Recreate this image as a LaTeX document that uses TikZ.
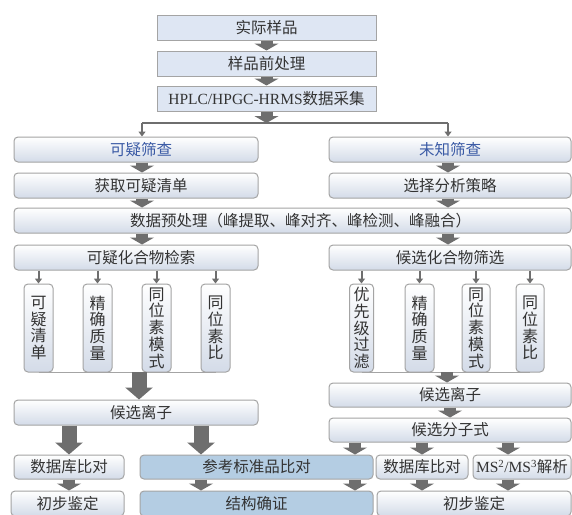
\documentclass[tikz,border=0pt]{standalone}
\usepackage{fontspec}
\setmainfont{Liberation Serif}
\newfontfamily\cjk{Noto Sans CJK SC}
\usetikzlibrary{arrows.meta,calc}
\definecolor{bd}{HTML}{A4A4A4}
\definecolor{lav}{HTML}{DEE6F3}
\definecolor{grad}{HTML}{D3DBE8}
\definecolor{sky}{HTML}{B4CDE3}
\definecolor{ag}{HTML}{6E6E6E}
\definecolor{tx}{HTML}{333333}
\definecolor{bl}{HTML}{3A5AA5}
\tikzset{
  base/.style={inner sep=0pt, text=tx, font=\cjk\fontsize{15.5}{18}\selectfont, line width=1pt, draw=bd},
  topbox/.style={base, rectangle, fill=lav, minimum height=25pt},
  rbox/.style={base, rounded corners=4pt, top color=white, bottom color=grad, minimum height=25pt},
  bbox/.style={base, rounded corners=4pt, fill=sky, minimum height=25pt},
  vbox/.style={base, rounded corners=4pt, top color=white, bottom color=grad, minimum height=88pt, minimum width=29pt, align=center, font=\cjk\fontsize{16}{16.8}\selectfont},
  arrS/.style={draw=ag, line width=12pt, -{Triangle[width=24pt,length=7pt]}},
  arrB/.style={draw=ag, line width=15pt, -{Triangle[width=27pt,length=12pt]}},
  arrT/.style={draw=ag, line width=2pt, -{Triangle[width=7pt,length=5pt]}},
  ln/.style={draw=ag, line width=2pt},
  baseln/.style={draw=bd, line width=1pt}
}
\begin{document}
\begin{tikzpicture}[x=1pt,y=-1pt]
\clip (0,0) rectangle (572,514);
\fill[white] (0,0) rectangle (572,514);
% top column
\node[topbox, minimum width=219pt] (sj) at (266.5,27.5) {实际样品};
\node[topbox, minimum width=219pt] (qcl) at (266.5,63.5) {样品前处理};
\node[topbox, minimum width=219pt] (hplc) at (266.5,98.5) {{\rmfamily HPLC/HPGC-HRMS}数据采集};
% branches
\node[rbox, minimum width=244pt, text=bl] (kysc) at (136,149.5) {\hspace*{10pt}可疑筛查};
\node[rbox, minimum width=242pt, text=bl] (wzsc) at (450,149.5) {未知筛查};
\node[rbox, minimum width=244pt] (hq) at (136,185.5) {\hspace*{10pt}获取可疑清单};
\node[rbox, minimum width=242pt] (xz) at (450,185.5) {选择分析策略};
\node[rbox, minimum width=557pt] (ycl) at (292.5,220.5) {\hspace*{16pt}数据预处理（峰提取、峰对齐、峰检测、峰融合）};
\node[rbox, minimum width=244pt] (js) at (136,257.5) {\hspace*{10pt}可疑化合物检索};
\node[rbox, minimum width=242pt] (sx) at (450,257.5) {候选化合物筛选};
% vertical boxes
\node[vbox] (v1) at (38.5,328) {可\\疑\\清\\单};
\node[vbox] (v2) at (97.5,328) {精\\确\\质\\量};
\node[vbox] (v3) at (156.5,328) {同\\位\\素\\模\\式};
\node[vbox] (v4) at (215.5,328) {同\\位\\素\\比};
\node[vbox, minimum width=24pt] (v5) at (361.5,328) {优\\先\\级\\过\\滤};
\node[vbox] (v6) at (419.5,328) {精\\确\\质\\量};
\node[vbox, minimum width=28pt] (v7) at (476,328) {同\\位\\素\\模\\式};
\node[vbox, minimum width=28pt] (v8) at (530,328) {同\\位\\素\\比};
% lower boxes
\node[rbox, minimum width=244pt] (hxlzL) at (136,412.5) {\hspace*{10pt}候选离子};
\node[rbox, minimum width=242pt, minimum height=24pt] (hxlzR) at (450,395) {候选离子};
\node[rbox, minimum width=242pt, minimum height=24pt] (hxfzs) at (450,430) {候选分子式};
\node[rbox, minimum width=110pt, minimum height=24pt] (sjkL) at (69,467) {数据库比对};
\node[bbox, minimum width=233pt, minimum height=24pt] (ckbz) at (256.5,467) {参考标准品比对};
\node[rbox, minimum width=92pt, minimum height=24pt] (sjkR) at (422,467) {数据库比对};
\node[rbox, minimum width=98pt, minimum height=24pt] (ms) at (522,467) {{\rmfamily MS\textsuperscript{2}/MS\textsuperscript{3}}解析};
\node[rbox, minimum width=113pt] (cbL) at (67.5,503.5) {初步鉴定};
\node[bbox, minimum width=233pt] (jgqz) at (256.5,503.5) {结构确证};
\node[rbox, minimum width=194pt] (cbR) at (474,503.5) {初步鉴定};
% helper coordinates
\coordinate (XL) at (142,0);
\coordinate (XR) at (448,0);
\coordinate (split) at (266.5,123);
\coordinate (bL) at (139,372);
\coordinate (bR) at (447,372);
\coordinate (c1) at (201,0);
\coordinate (c2) at (355,0);
\coordinate (c3) at (508,0);
% top arrows
\draw[arrS] (sj) -- (qcl);
\draw[arrS] (qcl) -- (hplc);
\draw[arrS] (hplc.south) -- (split);
\draw[ln] (split -| XL) -- (split -| XR);
\draw[arrT] (split -| XL) -- (kysc.north -| XL);
\draw[arrT] (split -| XR) -- (wzsc.north -| XR);
% columns
\draw[arrS] (kysc.south -| XL) -- (hq.north -| XL);
\draw[arrS] (hq.south -| XL) -- (ycl.north -| XL);
\draw[arrS] (ycl.south -| XL) -- (js.north -| XL);
\draw[arrS] (wzsc.south -| XR) -- (xz.north -| XR);
\draw[arrS] (xz.south -| XR) -- (ycl.north -| XR);
\draw[arrS] (ycl.south -| XR) -- (sx.north -| XR);
% small arrows to vertical boxes
\foreach \v in {v1,v2,v3,v4} \draw[arrT] (js.south -| \v) -- (\v.north);
\foreach \v in {v5,v6,v7,v8} \draw[arrT] (sx.south -| \v) -- (\v.north);
\draw[baseln] (v1.south) -- (v4.south);
\draw[baseln] (v5.south) -- (v8.south);
\draw[arrB] (bL) -- (hxlzL.north -| bL);
\draw[arrS] (bR) -- (hxlzR.north -| bR);
\draw[arrS] (hxlzR) -- (hxfzs);
% bottom left
\draw[arrB] (hxlzL.south -| sjkL) -- (sjkL.north);
\draw[arrB] (hxlzL.south -| c1) -- (ckbz.north -| c1);
\draw[arrS] (sjkL) -- (cbL.north -| sjkL);
\draw[arrS] (ckbz.south -| c1) -- (jgqz.north -| c1);
\draw[arrS] (ckbz.south -| c2) -- (jgqz.north -| c2);
% bottom right
\draw[arrS] (hxfzs.south -| c2) -- (ckbz.north -| c2);
\draw[arrS] (hxfzs.south -| sjkR) -- (sjkR.north);
\draw[arrS] (hxfzs.south -| c3) -- (ms.north -| c3);
\draw[arrS] (sjkR) -- (cbR.north -| sjkR);
\draw[arrS] (ms.south -| c3) -- (cbR.north -| c3);
\end{tikzpicture}
\end{document}
